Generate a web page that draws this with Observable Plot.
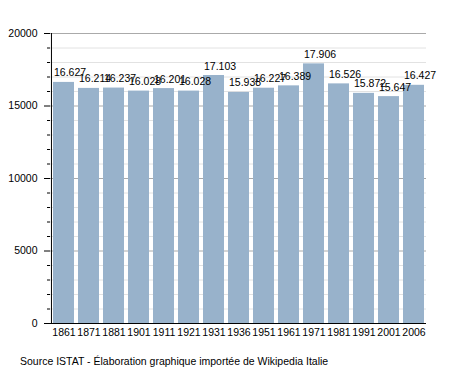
<!DOCTYPE html>
<html>
<head>
<meta charset="utf-8">
<script src="https://cdn.jsdelivr.net/npm/d3@7"></script>
<script src="https://cdn.jsdelivr.net/npm/@observablehq/plot@0.6"></script>
<style>
  body { margin: 0; background: #fff; font-family: "Liberation Sans", Arial, sans-serif; }
  #caption { font-size: 10.5px; color: #000; margin: 10px 0 0 20px; }
</style>
</head>
<body>
<div id="chart"></div>
<div id="caption">Source ISTAT - Élaboration graphique importée de Wikipedia Italie</div>
<script>
const years = ["1861","1871","1881","1901","1911","1921","1931","1936","1951","1961","1971","1981","1991","2001","2006"];
const population = [16627,16214,16237,16028,16201,16028,17103,15938,16227,16389,17906,16526,15872,15647,16427];
const majorTicks = [0,5000,10000,15000,20000];
const minorTicks = [1000,2000,3000,4000,6000,7000,8000,9000,11000,12000,13000,14000,16000,17000,18000,19000];

const data = years.map((y, i) => ({year: y, value: population[i]}));
const fmt = v => d3.format(",")(v).replace(/,/g, ".");

const W = 455, ML = 50, MR = 29;
const step = (W - ML - MR) / years.length;

const chart = Plot.plot({
  width: W,
  height: 345,
  marginTop: 33,
  marginBottom: 22,
  marginLeft: ML,
  marginRight: MR,
  style: {fontFamily: "Liberation Sans, Arial, sans-serif", fontSize: "10.5px", color: "#000", background: "#fff"},
  x: {domain: years, padding: 0, label: null},
  y: {domain: [0, 20000], label: null},
  marks: [
    Plot.ruleY(minorTicks, {stroke: "#e2e2e2", strokeWidth: 1}),
    Plot.ruleY(majorTicks.filter(d => d > 0), {stroke: "#aaaaaa", strokeWidth: 1}),
    Plot.barY(data, {x: "year", y: "value", fill: "#98b2cb", insetLeft: 2, insetRight: 2}),
    Plot.text(data, {x: "year", y: "value", text: d => fmt(d.value), textAnchor: "start", lineAnchor: "bottom", dx: -step/2 + 2.5, dy: -6, fill: "#000", fontSize: 10.5}),
    Plot.axisY(minorTicks, {tickSize: 3, tickFormat: () => "", stroke: "#000"}),
    Plot.axisY(majorTicks, {tickSize: 6, tickPadding: 7, tickFormat: d => String(d), stroke: "#000"}),
    Plot.axisX({tickSize: 0, tickPadding: 5}),
    Plot.ruleX([years[0]], {dx: -step/2, y1: 0, y2: 20000, stroke: "#000"}),
    Plot.ruleY([0], {stroke: "#000"})
  ]
});
document.getElementById("chart").appendChild(chart);
</script>
</body>
</html>
